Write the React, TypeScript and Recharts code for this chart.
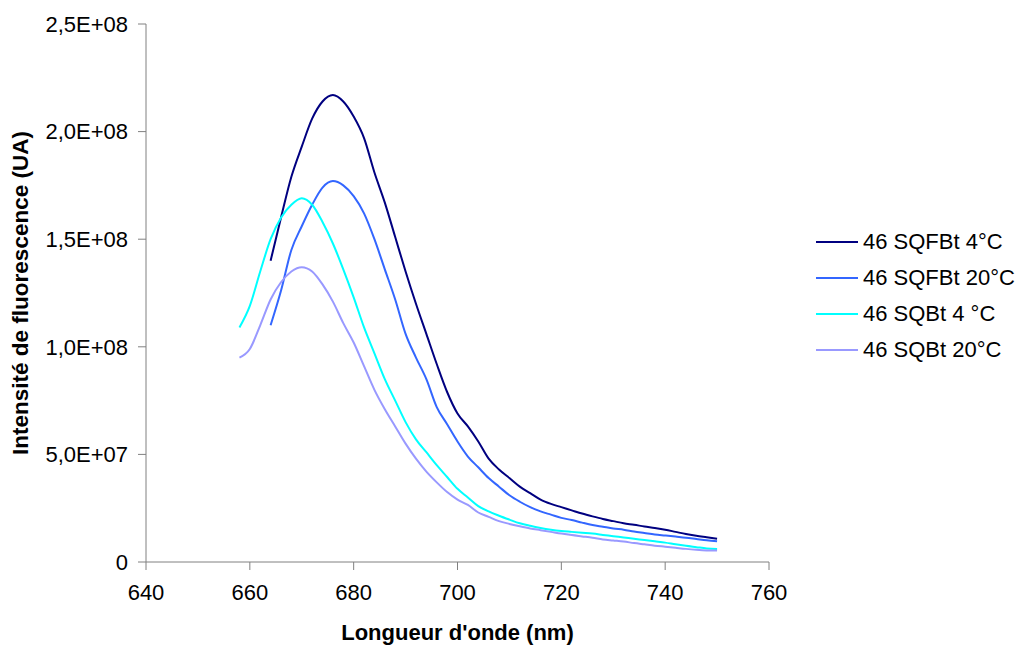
import React from 'react';
import { LineChart, Line, XAxis, YAxis } from 'recharts';

// wavelengths (nm), 2 nm steps
const wavelengths = [
    658, 660, 662, 664, 666, 668, 670, 672, 674, 676, 678, 680, 682, 684, 686, 688,
    690, 692, 694, 696, 698, 700, 702, 704, 706, 708, 710, 712, 714, 716, 718, 720,
    722, 724, 726, 728, 730, 732, 734, 736, 738, 740, 742, 744, 746, 748, 750,
];

// intensities in millions (UA)
const sqfbt4 = [
    null, null, null,
    140, 160, 179, 193, 206, 214, 217, 214, 207, 197, 181, 167, 151,
    135, 120, 106, 92, 79, 69, 63, 56, 48, 43, 39, 35, 32, 29, 27, 25.5,
    24, 22.5, 21.2, 20, 19, 18, 17.3, 16.5, 15.8, 15, 14, 13, 12.2, 11.5, 10.8,
];
const sqfbt20 = [
    null, null, null,
    110, 126, 145, 156, 166, 174, 177, 175, 170, 162, 150, 136, 122,
    106, 95, 85, 72, 64, 56, 49, 44, 39, 35, 31, 28, 25.5, 23.5, 22, 20.5,
    19.5, 18.3, 17.2, 16.4, 15.6, 15, 14.2, 13.5, 12.8, 12.3, 11.8, 11.3, 10.7, 10.1, 9.6,
];
const sqbt4 = [
    109, 119, 135, 150, 160, 166, 169, 166, 158, 148, 136, 123, 109, 97, 85, 75,
    65, 57, 51, 45, 39.5, 34, 30, 26, 23.5, 21.5, 19.7, 18, 16.8, 15.8, 15, 14.4,
    14, 13.6, 13.2, 12.6, 12, 11.4, 10.8, 10.2, 9.6, 9, 8.2, 7.5, 6.9, 6.3, 6,
];
const sqbt20 = [
    95, 99, 110, 122, 130, 135, 137, 135, 129, 121, 111, 102, 91, 80, 71, 63,
    55, 48, 42, 37, 32.5, 29, 26.5, 23, 21, 19, 17.7, 16.6, 15.6, 14.8, 14, 13.2,
    12.5, 11.9, 11.3, 10.5, 10, 9.5, 8.8, 8.2, 7.6, 7.1, 6.6, 6.1, 5.7, 5.4, 5.3,
];

const xTicks = [640, 660, 680, 700, 720, 740, 760];
const yTicks = [0, 5e7, 1e8, 1.5e8, 2e8, 2.5e8];

const series = [
    { key: 'sqfbt4', name: '46 SQFBt 4°C', values: sqfbt4, color: '#000080' },
    { key: 'sqfbt20', name: '46 SQFBt 20°C', values: sqfbt20, color: '#3366FF' },
    { key: 'sqbt4', name: '46 SQBt 4 °C', values: sqbt4, color: '#00FFFF' },
    { key: 'sqbt20', name: '46 SQBt 20°C', values: sqbt20, color: '#9999FF' },
];

const data = wavelengths.map((wl, i) => {
    const row: any = { wl };
    series.forEach(s => {
        const v = s.values[i];
        row[s.key] = v == null ? null : v * 1e6;
    });
    return row;
});

const FONT = '"Liberation Sans", Arial, sans-serif';

const fmtY = (v: number) =>
    v === 0
        ? '0'
        : v.toExponential(1).replace('.', ',').replace(/e([+-])(\d+)/, (_m, s, d) => 'E' + s + d.padStart(2, '0'));

const LegendBox = () => (
    <div style={{ position: 'absolute', left: 816, top: 224, fontFamily: FONT, fontSize: 22, color: '#000' }}>
        {series.map(s => (
            <div key={s.key} style={{ display: 'flex', alignItems: 'center', height: 36, whiteSpace: 'nowrap' }}>
                <svg width={42} height={4} style={{ marginRight: 5 }}>
                    <line x1={0} y1={2} x2={42} y2={2} stroke={s.color} strokeWidth={2} />
                </svg>
                <span>{s.name}</span>
            </div>
        ))}
    </div>
);

const App = () => {
    return (
        <div style={{ position: 'absolute', left: 0, top: 0, width: 1017, height: 645, background: '#fff' }}>
            <LineChart
                width={1017}
                height={645}
                data={data}
                margin={{ top: 24, right: 248, left: 66, bottom: 33 }}
            >
                <XAxis
                    dataKey="wl"
                    type="number"
                    domain={[640, 760]}
                    ticks={xTicks}
                    height={50}
                    stroke="#808080"
                    tickSize={8}
                    tick={{ fill: '#000', fontSize: 22, fontFamily: FONT }}
                    tickMargin={14}
                    label={{
                        value: "Longueur d'onde (nm)",
                        position: 'insideBottom',
                        offset: -28,
                        style: { fill: '#000', fontSize: 22, fontWeight: 'bold', fontFamily: FONT },
                    }}
                />
                <YAxis
                    type="number"
                    domain={[0, 2.5e8]}
                    ticks={yTicks}
                    width={80}
                    stroke="#808080"
                    tickSize={8}
                    tickFormatter={fmtY}
                    tick={{ fill: '#000', fontSize: 22, fontFamily: FONT }}
                    tickMargin={10}
                    label={{
                        value: 'Intensité de fluorescence (UA)',
                        angle: -90,
                        position: 'insideLeft',
                        offset: -46,
                        style: { textAnchor: 'middle', fill: '#000', fontSize: 22.5, fontWeight: 'bold', fontFamily: FONT },
                    }}
                />
                {series.map(s => (
                    <Line
                        key={s.key}
                        type="monotone"
                        dataKey={s.key}
                        name={s.name}
                        stroke={s.color}
                        strokeWidth={2}
                        dot={false}
                        isAnimationActive={false}
                    />
                ))}
            </LineChart>
            <LegendBox />
        </div>
    );
};

export default App;
